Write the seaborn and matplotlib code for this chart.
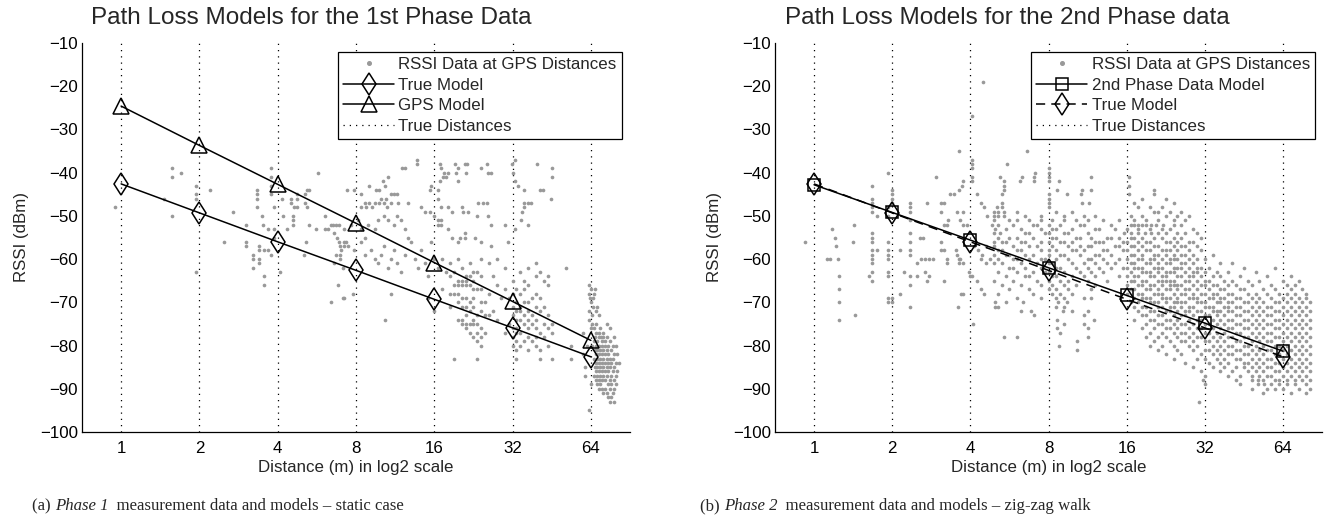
import numpy as np
import pandas as pd
import matplotlib
matplotlib.use("Agg")
import matplotlib.pyplot as plt
import matplotlib.transforms as mtransforms
from matplotlib.lines import Line2D
from matplotlib.ticker import NullLocator
import seaborn as sns

# ── model values at the true distances ─────────────────────────────────────
true_dist = [1, 2, 4, 8, 16, 32, 64]
true_model = [-42.6, -49.3, -56.0, -62.6, -69.3, -75.9, -82.6]
gps_model = [-24.6, -33.7, -42.7, -51.7, -60.8, -69.8, -78.8]
phase2_model = [-42.8, -49.2, -55.6, -62.0, -68.4, -74.8, -81.3]

# ── RSSI samples: (rssi dBm, [log2 of GPS distance]) ──
p1_near = [
    (-39, [0.65, 1.92]), (-40, [0.77, 2.52]), (-41, [0.65, 1.92]),
    (-43, [0.95, 1.92]), (-44, [1.13, 1.74, 2.37, 2.40, 2.89]),
    (-45, [0.96, 1.74, 1.92, 2.24, 2.35]),
    (-46, [0.55, 0.96, 1.74, 2.05, 2.17, 2.25]), (-47, [2.17, 2.35]),
    (-48, [-0.08, 1.74, 1.95, 2.21, 2.25, 2.37]), (-49, [1.43]),
    (-50, [0.65, 1.80, 2.07, 2.19, 2.61]), (-51, [2.19]),
    (-52, [1.59, 1.81, 2.19, 2.40, 2.68, 2.71, 2.74, 2.78]),
    (-53, [1.88, 1.95, 2.12, 2.49, 2.61, 2.64]), (-54, [2.72]),
    (-55, [1.95, 2.76]), (-56, [1.31, 1.59, 2.36, 2.78, 2.87]),
    (-57, [1.59, 1.76, 2.80, 2.85]), (-58, [1.76, 1.82, 1.87, 2.81]),
    (-59, [1.68, 1.91, 2.34, 2.74, 2.79]), (-60, [1.68, 1.76, 2.79]),
    (-61, [1.76, 2.72]), (-62, [1.69, 2.83]), (-63, [0.95, 2.03]),
    (-64, [1.82]), (-66, [1.82, 2.77]), (-69, [2.83]), (-70, [2.68]),
]
p1_mid = [
    (-37, [3.78, 5.03]),
    (-38, [3.78, 4.07, 4.26, 4.39, 4.42, 4.67, 4.99, 5.31]),
    (-39, [3.59, 3.62, 4.09, 4.30, 4.60, 5.50]),
    (-40, [4.13, 4.17, 4.28, 4.41, 4.69, 4.73, 5.01]),
    (-41, [3.41, 4.11, 4.15, 5.50]), (-42, [3.35, 4.07, 4.30, 5.03]),
    (-43, [3.17, 3.37, 3.96, 5.07]),
    (-44, [2.98, 3.26, 3.30, 3.94, 4.05, 5.14, 5.35, 5.39]),
    (-45, [3.06, 3.45, 3.49, 3.53]), (-46, [3.32, 3.38, 4.05, 5.49]),
    (-47, [3.11, 3.17, 3.24, 3.30, 3.36, 3.45, 3.54, 3.66, 4.56, 4.62, 4.67, 5.14, 5.20, 5.24]),
    (-48, [3.06, 3.13, 3.21, 3.40, 3.83, 4.09, 4.17, 4.35, 5.14]),
    (-49, [3.88, 3.94, 4.22, 4.37, 4.43, 5.12]),
    (-50, [3.36, 3.53, 4.00, 4.54, 4.69]),
    (-51, [3.02, 3.28, 3.41, 3.58, 4.05, 4.09, 5.11]),
    (-52, [2.94, 3.15, 3.49, 4.05, 4.09, 4.73, 4.90, 5.20]),
    (-53, [2.85, 3.06, 3.24, 3.62, 4.17, 5.03]), (-54, [4.39]),
    (-55, [3.11, 3.66, 4.22, 4.33, 4.39, 4.52]),
    (-56, [2.85, 3.06, 3.70, 3.96, 4.30, 4.60, 4.94]),
    (-57, [2.90, 3.36, 4.73]), (-58, [2.98, 3.19, 3.49, 3.83]),
    (-59, [3.11, 3.32, 3.62]),
    (-60, [3.24, 3.45, 3.75, 4.00, 4.10, 4.30, 4.60, 4.80]),
    (-61, [3.28, 3.53, 3.88, 4.20, 4.45, 4.70, 5.30]),
    (-62, [3.41, 3.79, 4.05, 4.35, 4.90, 5.20, 5.68]),
    (-63, [3.58, 4.15, 4.25, 4.50, 4.55, 5.10, 5.35]),
    (-64, [3.92, 4.20, 4.40, 4.45, 4.60, 4.75, 5.30, 5.45]),
    (-65, [4.30, 4.35, 4.40, 4.50, 5.00, 5.15, 5.40]),
    (-66, [4.25, 4.30, 4.35, 4.40, 4.45, 4.80, 5.20, 5.45]),
    (-67, [4.10, 4.50, 4.55, 4.60, 4.90, 5.05, 5.15]),
    (-68, [2.96, 3.45, 4.20, 4.25, 4.30, 4.70, 5.00, 5.10, 5.30]),
    (-69, [2.85, 3.92, 4.35, 4.40, 4.50, 4.85, 4.95, 5.25, 5.35]),
    (-70, [4.30, 4.45, 4.60, 4.65, 5.05, 5.15, 5.20]),
    (-71, [4.20, 4.35, 4.40, 4.50, 5.00, 5.10, 5.30, 5.40]),
    (-72, [4.00, 4.45, 4.60, 4.75, 5.05, 5.10, 5.20, 5.35]),
    (-73, [4.40, 4.55, 4.65, 4.70, 5.00, 5.15, 5.25, 5.45]),
    (-74, [3.37, 4.30, 4.35, 4.50, 4.80, 5.05, 5.10, 5.20, 5.30]),
    (-75, [4.35, 4.40, 4.45, 4.50, 4.55, 4.95, 5.15, 5.25, 5.40, 5.50]),
    (-76, [4.40, 4.60, 5.00, 5.05, 5.20, 5.30, 5.45]),
    (-77, [4.45, 4.55, 4.65, 4.90, 5.05, 5.10, 5.35, 5.50]),
    (-78, [4.50, 4.60, 5.00, 5.20, 5.30, 5.40]),
    (-79, [4.55, 5.05, 5.15, 5.25]),
    (-80, [4.60, 5.00, 5.10, 5.30, 5.45, 5.75]),
    (-81, [5.05, 5.20, 5.35]),
    (-83, [4.25, 4.55, 5.05, 5.35, 5.50, 5.75]),
]
p1_far = [
    (-66, [5.98]), (-67, [6.00, 6.05]), (-68, [5.98, 6.04]), (-69, [5.99, 6.03]),
    (-70, [6.00]), (-71, [6.03, 6.08]), (-72, [5.97, 6.06]), (-73, [6.01, 6.10]),
    (-74, [5.98]), (-75, [6.02, 6.06, 6.20]), (-76, [6.00, 6.04, 6.12, 6.25]),
    (-77, [5.90, 6.07, 6.10, 6.15]),
    (-78, [6.05, 6.10, 6.13, 6.16, 6.20, 6.30]),
    (-79, [6.04, 6.08, 6.14, 6.18, 6.24]),
    (-80, [5.95, 6.02, 6.06, 6.10, 6.14, 6.18, 6.22, 6.28, 6.32]),
    (-81, [6.05, 6.08, 6.12, 6.16, 6.20, 6.26]),
    (-82, [5.90, 6.06, 6.10, 6.14, 6.18, 6.22, 6.30, 6.34]),
    (-83, [6.04, 6.08, 6.12, 6.16, 6.20, 6.24, 6.28]),
    (-84, [6.06, 6.10, 6.14, 6.18, 6.22, 6.26, 6.32, 6.36]),
    (-85, [5.92, 6.05, 6.08, 6.12, 6.16, 6.20, 6.24, 6.30]),
    (-86, [6.06, 6.10, 6.14, 6.18, 6.22, 6.28, 6.34]),
    (-87, [5.93, 6.04, 6.08, 6.12, 6.16, 6.20, 6.26, 6.32]),
    (-88, [6.06, 6.10, 6.14, 6.18, 6.24, 6.30]),
    (-89, [6.00, 6.08, 6.12, 6.22, 6.26, 6.32]),
    (-90, [6.10, 6.14, 6.18, 6.24, 6.30]), (-91, [6.16, 6.20, 6.28]),
    (-92, [6.22, 6.26]), (-93, [6.24, 6.30]), (-95, [5.98]),
]

p2_near = [
    (-19, [2.16]), (-27, [2.02]), (-35, [1.85]), (-37, [2.02]), (-38, [2.02]),
    (-39, [2.02]), (-40, [0.94]), (-41, [1.56, 2.02]), (-42, [1.91, 2.02]),
    (-43, [0.74, 1.89]), (-44, [1.00, 1.85]), (-45, [1.00, 1.74, 1.79, 2.09]),
    (-46, [0.74, 1.00]), (-47, [0.74, 1.00, 1.23, 1.44, 1.62, 1.66, 2.13]),
    (-48, [0.74, 0.94, 1.23, 2.17]), (-49, [0.74, 1.23, 1.62, 1.83, 1.91]),
    (-50, [0.80, 0.94, 2.21]), (-51, [1.23, 1.72, 1.87]),
    (-52, [0.51, 1.66, 1.70, 1.91, 1.96]), (-53, [0.23]), (-54, [0.74, 1.23]),
    (-55, [0.27, 0.74, 1.36, 1.40]), (-56, [-0.12, 0.50, 0.74, 0.94, 1.23, 1.62]),
    (-57, [0.28, 2.05, 2.20]),
    (-58, [0.74, 0.80, 0.94, 1.10, 1.23, 1.62, 1.66, 1.81, 2.10]),
    (-59, [0.74, 0.94, 1.23, 1.83, 2.15]),
    (-60, [0.17, 0.21, 0.31, 0.74, 0.94, 1.37, 1.42, 1.47, 1.52, 1.70, 1.85, 1.87, 2.13, 2.25]),
    (-61, [0.74, 1.32, 1.70, 1.85, 1.91, 2.20]),
    (-63, [0.74, 0.94, 1.15, 1.42, 1.98]),
    (-64, [0.32, 0.70, 0.94, 1.23, 1.32, 1.47, 2.00, 2.02]),
    (-65, [0.74, 1.44, 1.66, 2.09]), (-66, [1.23]), (-67, [0.32, 2.13]),
    (-68, [1.10, 1.88, 1.91, 2.17]), (-69, [0.94, 1.00]),
    (-70, [0.32, 0.94, 1.00, 2.32]), (-71, [1.23, 1.84, 2.32]),
    (-73, [0.53]), (-74, [0.32]), (-75, [2.04]),
]
p2_mid = [
    (-35, [2.73]), (-38, [2.47]), (-39, [3.00]), (-40, [2.83, 3.00]),
    (-41, [2.38, 2.66, 2.81, 3.00, 3.54, 4.03]),
    (-42, [2.43, 2.64, 2.81, 3.00, 3.13]), (-43, [2.43, 4.03]),
    (-44, [2.43, 3.11, 3.43, 3.54, 4.35]),
    (-45, [2.41, 3.00, 3.24, 3.41, 4.03, 4.35]), (-46, [3.00, 4.20, 4.50]),
    (-47, [2.41, 3.00, 3.43, 3.52, 4.10, 4.60]),
    (-48, [2.34, 2.41, 3.00, 4.14, 4.30, 4.45]),
    (-49, [2.30, 2.36, 2.43, 2.60, 3.10, 3.30, 4.35, 4.40, 4.55, 4.70]),
    (-50, [2.30, 2.36, 2.43, 2.70, 2.90, 3.20, 3.45, 3.60, 4.05, 4.20, 4.50, 4.65, 4.80]),
    (-51, [2.30, 2.50, 2.60, 2.75, 2.90, 3.05, 3.20, 3.35, 3.50, 3.70, 3.90, 4.10, 4.25, 4.40, 4.60, 4.75]),
    (-52, [2.28, 2.35, 2.55, 2.80, 2.85, 3.00, 3.15, 3.40, 3.45, 3.80, 4.05, 4.10, 4.14,
           4.20, 4.25, 4.31, 4.37, 4.46, 4.60, 4.70]),
    (-53, [2.32, 2.45, 2.65, 2.90, 3.05, 3.10, 3.30, 3.60, 3.65, 3.85, 4.00, 4.15, 4.30,
           4.45, 4.55, 4.85]),
    (-54, [2.30, 2.38, 2.70, 2.75, 2.95, 3.00, 3.20, 3.25, 3.50, 3.97, 4.06, 4.14, 4.23,
           4.31, 4.40, 4.50, 4.65, 4.75, 4.90]),
    (-55, [2.35, 2.50, 2.60, 2.80, 3.05, 3.10, 3.35, 3.40, 3.55, 3.75, 3.80, 3.90, 4.05,
           4.10, 4.20, 4.35, 4.45, 4.60, 4.70, 4.95]),
    (-56, [2.30, 2.40, 2.45, 2.65, 2.70, 2.90, 3.00, 3.15, 3.20, 3.30, 3.60, 3.65, 3.70,
           3.95, 4.00, 4.15, 4.25, 4.30, 4.50, 4.55, 4.65, 4.80, 4.85]),
    (-57, [2.30, 2.55, 2.75, 2.85, 3.05, 3.25, 3.40, 3.50, 3.55, 3.85, 3.90, 4.05, 4.10,
           4.20, 4.35, 4.40, 4.60, 4.70, 4.75, 4.90]),
    (-58, [2.35, 2.40, 2.60, 2.65, 2.90, 3.00, 3.10, 3.30, 3.35, 3.45, 3.70, 3.75, 3.95,
           4.00, 4.15, 4.25, 4.30, 4.45, 4.50, 4.55, 4.65, 4.80, 4.95]),
    (-59, [2.30, 2.45, 2.50, 2.70, 2.80, 3.00, 3.15, 3.20, 3.40, 3.60, 3.65, 3.80, 4.05,
           4.10, 4.20, 4.35, 4.40, 4.50, 4.60, 4.70, 4.75, 4.85, 5.10]),
    (-60, [2.35, 2.55, 2.60, 2.75, 2.90, 2.95, 3.10, 3.25, 3.50, 3.55, 3.70, 3.90, 4.00,
           4.15, 4.20, 4.30, 4.35, 4.45, 4.55, 4.60, 4.65, 4.80, 4.90, 5.00]),
    (-61, [2.30, 2.40, 2.65, 2.85, 3.00, 3.05, 3.30, 3.45, 3.60, 3.75, 3.85, 4.05, 4.10,
           4.25, 4.30, 4.40, 4.50, 4.55, 4.70, 4.75, 4.85, 5.20, 5.35]),
    (-62, [2.50, 2.55, 2.70, 2.90, 3.10, 3.15, 3.35, 3.50, 3.65, 3.80, 3.95, 4.00, 4.10,
           4.15, 4.20, 4.35, 4.40, 4.45, 4.60, 4.65, 4.70, 4.80, 4.90, 4.95, 5.05, 5.50, 5.90]),
    (-63, [2.35, 2.60, 2.80, 2.95, 3.00, 3.20, 3.40, 3.55, 3.70, 4.05, 4.20, 4.25, 4.30,
           4.40, 4.50, 4.55, 4.60, 4.75, 4.85, 4.90, 5.00, 5.15, 5.30, 5.65]),
    (-64, [2.45, 2.70, 2.75, 3.05, 3.10, 3.30, 3.45, 3.60, 3.90, 4.00, 4.10, 4.15, 4.30,
           4.35, 4.45, 4.50, 4.65, 4.70, 4.80, 4.85, 4.95, 5.10, 5.20, 5.45, 5.80, 6.10]),
    (-65, [2.30, 2.55, 2.85, 3.00, 3.15, 3.25, 3.50, 3.75]),
    (-66, [2.40, 2.65, 2.90, 3.05, 3.20, 3.35, 3.60]),
    (-67, [2.50, 2.75, 3.00, 3.10, 3.25, 3.55]),
    (-68, [2.35, 2.80, 3.05, 3.15, 3.30]),
    (-69, [2.60, 2.90, 3.10, 3.20, 3.45, 3.55]),
    (-70, [2.45, 2.68, 3.12, 3.24]), (-71, [2.36, 3.10, 3.20]),
    (-72, [2.65, 2.78, 3.18, 3.30, 3.50]), (-73, [2.81, 3.45]),
    (-74, [3.11, 3.58]), (-75, [3.20, 3.45]), (-76, [3.11, 3.50]),
    (-77, [3.15]), (-78, [2.43, 2.60, 3.50]), (-79, [3.37]), (-80, [3.13]),
    (-81, [3.37]),
]
p2_far = [
    (-65, [4.05, 4.10, 4.20, 4.25, 4.40, 4.45, 4.50, 4.55, 4.60, 4.75, 4.80, 4.90, 5.00,
           5.05, 5.25, 5.35, 5.55, 5.70, 6.00, 6.20]),
    (-66, [4.00, 4.15, 4.20, 4.30, 4.35, 4.45, 4.55, 4.60, 4.65, 4.70, 4.85, 4.95, 5.00,
           5.10, 5.15, 5.30, 5.40, 5.60, 5.85, 6.05, 6.15]),
    (-67, [4.05, 4.10, 4.25, 4.30, 4.40, 4.50, 4.55, 4.65, 4.75, 4.80, 4.90, 5.05, 5.20,
           5.25, 5.45, 5.50, 5.75, 5.90, 6.10, 6.25]),
    (-68, [4.00, 4.15, 4.20, 4.35, 4.40, 4.45, 4.60, 4.70, 4.75, 4.85, 4.95, 5.00, 5.10,
           5.15, 5.30, 5.35, 5.55, 5.65, 5.80, 5.95, 6.05, 6.15, 6.30]),
    (-69, [4.10, 4.20, 4.25, 4.30, 4.45, 4.50, 4.55, 4.65, 4.80, 4.85, 4.90, 5.05, 5.10,
           5.20, 5.25, 5.40, 5.45, 5.60, 5.70, 5.85, 6.00, 6.10, 6.20, 6.30]),
    (-70, [4.05, 4.15, 4.30, 4.35, 4.40, 4.50, 4.60, 4.65, 4.70, 4.75, 4.90, 4.95, 5.00,
           5.15, 5.20, 5.30, 5.35, 5.50, 5.55, 5.65, 5.75, 5.90, 5.95, 6.05, 6.15, 6.25, 6.35]),
    (-71, [4.10, 4.20, 4.25, 4.40, 4.45, 4.55, 4.60, 4.70, 4.80, 4.85, 5.00, 5.05, 5.10,
           5.25, 5.30, 5.40, 5.45, 5.60, 5.70, 5.80, 5.85, 6.00, 6.10, 6.20, 6.30]),
    (-72, [4.15, 4.30, 4.35, 4.50, 4.55, 4.65, 4.75, 4.80, 4.90, 4.95, 5.10, 5.15, 5.20,
           5.30, 5.35, 5.50, 5.55, 5.65, 5.75, 5.90, 5.95, 6.05, 6.15, 6.25, 6.35]),
    (-73, [4.20, 4.25, 4.40, 4.45, 4.60, 4.70, 4.75, 4.85, 5.00, 5.05, 5.15, 5.25, 5.40,
           5.45, 5.60, 5.70, 5.80, 5.85, 6.00, 6.10, 6.20, 6.30]),
    (-74, [4.10, 4.30, 4.35, 4.50, 4.55, 4.65, 4.80, 4.90, 4.95, 5.10, 5.20, 5.30, 5.35,
           5.50, 5.55, 5.65, 5.75, 5.90, 5.95, 6.05, 6.15, 6.25, 6.35]),
    (-75, [4.25, 4.40, 4.45, 4.60, 4.70, 4.75, 4.85, 5.00, 5.05, 5.15, 5.25, 5.40, 5.45,
           5.60, 5.70, 5.80, 5.85, 6.00, 6.10, 6.20, 6.30]),
    (-76, [4.20, 4.35, 4.50, 4.55, 4.65, 4.80, 4.90, 4.95, 5.10, 5.20, 5.30, 5.35, 5.50,
           5.55, 5.65, 5.75, 5.90, 5.95, 6.05, 6.15, 6.25, 6.35]),
    (-77, [4.30, 4.45, 4.60, 4.70, 4.75, 4.85, 5.00, 5.05, 5.15, 5.25, 5.40, 5.45, 5.60,
           5.70, 5.80, 5.85, 6.00, 6.10, 6.20, 6.30]),
    (-78, [4.25, 4.40, 4.50, 4.65, 4.80, 4.90, 4.95, 5.10, 5.20, 5.30, 5.35, 5.50, 5.55,
           5.65, 5.75, 5.90, 5.95, 6.05, 6.15, 6.25, 6.35]),
    (-79, [4.35, 4.55, 4.70, 4.75, 4.85, 5.00, 5.05, 5.15, 5.25, 5.40, 5.45, 5.60, 5.70,
           5.80, 5.85, 6.00, 6.10, 6.20, 6.30]),
    (-80, [4.30, 4.45, 4.60, 4.80, 4.90, 5.10, 5.20, 5.30, 5.35, 5.50, 5.55, 5.65, 5.75,
           5.90, 5.95, 6.05, 6.15, 6.25, 6.35]),
    (-81, [4.40, 4.65, 4.85, 5.00, 5.05, 5.15, 5.25, 5.40, 5.45, 5.60, 5.70, 5.80, 5.85,
           6.00, 6.10, 6.20, 6.30]),
    (-82, [4.50, 4.70, 4.95, 5.10, 5.20, 5.30, 5.35, 5.50, 5.55, 5.65, 5.75, 5.90, 5.95,
           6.05, 6.15, 6.25, 6.35]),
    (-83, [4.60, 4.90, 5.00, 5.15, 5.25, 5.40, 5.45, 5.60, 5.70, 5.80, 5.85, 6.00, 6.10,
           6.20, 6.30]),
    (-84, [4.75, 5.05, 5.20, 5.30, 5.50, 5.55, 5.65, 5.75, 5.90, 5.95, 6.05, 6.15, 6.25, 6.35]),
    (-85, [4.85, 5.10, 5.25, 5.40, 5.50, 5.60, 5.70, 5.80, 5.85, 6.00, 6.10, 6.20, 6.30]),
    (-86, [4.95, 5.20, 5.35, 5.55, 5.65, 5.75, 5.90, 5.95, 6.05, 6.15, 6.25, 6.35]),
    (-87, [5.00, 5.30, 5.45, 5.60, 5.70, 5.80, 5.85, 6.00, 6.10, 6.20, 6.30]),
    (-88, [4.98, 5.40, 5.60, 5.68, 5.75, 5.90, 5.95, 6.05, 6.15, 6.25, 6.35]),
    (-89, [5.00, 5.45, 5.68, 5.76, 5.85, 5.95, 6.05, 6.15, 6.30]),
    (-90, [5.60, 5.80, 5.90, 6.00, 6.20, 6.35]), (-91, [5.75, 6.10, 6.30]),
    (-93, [4.92]),
]


def rows_to_frame(*groups):
    dist, rssi = [], []
    for rows in groups:
        for level, xs in rows:
            for x in xs:
                dist.append(2.0 ** x)
                rssi.append(level)
    return pd.DataFrame({"distance": dist, "rssi": rssi})


p1 = rows_to_frame(p1_near, p1_mid, p1_far)
p2 = rows_to_frame(p2_near, p2_mid, p2_far)
models = pd.DataFrame({"distance": true_dist, "true": true_model,
                       "gps": gps_model, "phase2": phase2_model})

sns.set_style("white")
plt.rcParams["font.family"] = ["Liberation Sans", "DejaVu Sans"]
plt.rcParams["axes.unicode_minus"] = True

DOT = "#999999"
FS = 12.2
dot_style = (0, (1, 4))
MS_D, MS_T, MS_S = 11.5, 11, 9

fig = plt.figure(figsize=(13.28, 5.25), dpi=100)
ax1 = fig.add_axes([82 / 1328, 93 / 525, 548 / 1328, 389 / 525])
ax2 = fig.add_axes([775 / 1328, 93 / 525, 547 / 1328, 389 / 525])


def style_axes(ax):
    ax.set_xscale("log", base=2)
    ax.set_xlim(2 ** -0.5, 2 ** 6.5)
    ax.set_ylim(-100, -10)
    ax.set_xticks(true_dist)
    ax.set_xticklabels([str(d) for d in true_dist])
    ax.xaxis.set_minor_locator(NullLocator())
    ax.set_yticks(range(-100, 0, 10))
    for s in ["top", "right"]:
        ax.spines[s].set_visible(False)
    for s in ["left", "bottom"]:
        ax.spines[s].set_linewidth(0.9)
        ax.spines[s].set_color("black")
    ax.tick_params(axis="both", direction="in", length=4, width=0.8,
                   labelsize=FS, colors="black")
    ax.tick_params(axis="x", pad=6.5)
    ax.tick_params(axis="y", pad=3)
    for d in true_dist:
        ax.axvline(d, color="black", lw=0.9, ls=dot_style, zorder=1)


def finish_labels(ax):
    ax.set_xlabel("Distance (m) in log2 scale", fontsize=FS, labelpad=3)
    ax.set_ylabel("RSSI (dBm)", fontsize=FS)
    ax.yaxis.set_label_coords(-0.097, 0.5)


def add_legend(ax, handles, labels, x_anchor):
    leg = ax.legend(handles, labels, loc="upper right",
                    bbox_to_anchor=(x_anchor, 0.977), borderaxespad=0,
                    fontsize=FS, frameon=True, fancybox=False, edgecolor="black",
                    framealpha=1, handlelength=3.0, handletextpad=0.25,
                    labelspacing=0.33, borderpad=0.3)
    leg.get_frame().set_linewidth(0.9)
    return leg


# ── panel (a) ──────────────────────────────────────────────────────────────
style_axes(ax1)
sns.scatterplot(data=p1, x="distance", y="rssi", ax=ax1, color=DOT, s=7,
                linewidth=0, zorder=2, legend=False)
sns.lineplot(data=models, x="distance", y="true", ax=ax1, color="black", lw=1.1,
             marker="d", markersize=MS_D, mfc="none", mec="black", mew=1.1, zorder=3)
sns.lineplot(data=models, x="distance", y="gps", ax=ax1, color="black", lw=1.1,
             marker="^", markersize=MS_T, mfc="none", mec="black", mew=1.1, zorder=3)
finish_labels(ax1)

h_dot = Line2D([], [], ls="none", marker="o", ms=2.6, color=DOT, mec=DOT)
h_dist = Line2D([], [], color="black", lw=0.9, ls=dot_style)
h_true = Line2D([], [], color="black", lw=1.1, marker="d", ms=MS_D, mfc="none", mew=1.1)
h_gps = Line2D([], [], color="black", lw=1.1, marker="^", ms=MS_T, mfc="none", mew=1.1)
add_legend(ax1, [h_dot, h_true, h_gps, h_dist],
           ["RSSI Data at GPS Distances", "True Model", "GPS Model", "True Distances"],
           0.985)

# ── panel (b) ──────────────────────────────────────────────────────────────
style_axes(ax2)
sns.scatterplot(data=p2, x="distance", y="rssi", ax=ax2, color=DOT, s=7,
                linewidth=0, zorder=2, legend=False)
sns.lineplot(data=models, x="distance", y="phase2", ax=ax2, color="black", lw=1.1,
             marker="s", markersize=MS_S, mfc="none", mec="black", mew=1.1, zorder=3)
sns.lineplot(data=models, x="distance", y="true", ax=ax2, color="black", lw=1.1,
             ls=(0, (6, 4)), marker="d", markersize=MS_D, mfc="none", mec="black",
             mew=1.1, zorder=3)
finish_labels(ax2)

h_p2 = Line2D([], [], color="black", lw=1.1, marker="s", ms=MS_S, mfc="none", mew=1.1)
h_true2 = Line2D([], [], color="black", lw=1.1, ls=(0, (6, 4)), marker="d", ms=MS_D,
                 mfc="none", mew=1.1)
add_legend(ax2, [h_dot, h_p2, h_true2, h_dist],
           ["RSSI Data at GPS Distances", "2nd Phase Data Model", "True Model",
            "True Distances"], 0.987)

# ── titles (MATLAB placement, in figure pixels) ───────────────────────────
px = mtransforms.IdentityTransform()
fig.text(311, 525 - 18, "Path Loss Models for the 1st Phase Data", transform=px,
         ha="center", va="center", fontsize=17.5)
fig.text(1007, 525 - 18, "Path Loss Models for the 2nd Phase data", transform=px,
         ha="center", va="center", fontsize=17.5)

# ── subfigure captions with italic phase names ───────────────────────────
renderer = fig.canvas.get_renderer()


def caption(x, y, parts):
    for txt, style in parts:
        t = fig.text(x, y, txt, transform=px, ha="left", va="baseline",
                     fontsize=12.1, family="Liberation Serif", style=style)
        x += t.get_window_extent(renderer).width


caption(32, 525 - 510, [("(a) ", "normal"), ("Phase 1", "italic"),
                        ("  measurement data and models \u2013 static case", "normal")])
caption(700, 525 - 510, [("(b) ", "normal"), ("Phase 2", "italic"),
                         ("  measurement data and models \u2013 zig-zag walk", "normal")])

fig.savefig("out.png", dpi=100)
